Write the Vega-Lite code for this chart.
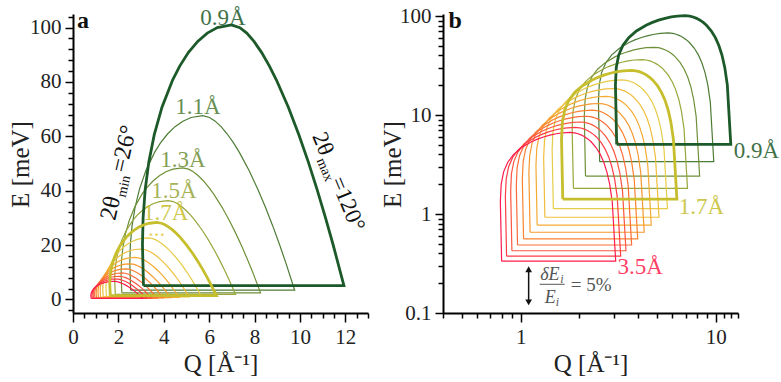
{
  "$schema": "https://vega.github.io/schema/vega-lite/v6.json",
  "background": "white",
  "padding": {"left": 8, "top": 5, "right": 5, "bottom": 5},
  "bounds": "flush",
  "spacing": 75,
  "config": {
    "font": "Liberation Serif",
    "view": {"stroke": null},
    "axis": {"grid": false, "domainColor": "#000", "domainWidth": 2, "tickColor": "#000", "tickWidth": 1.5, "labelFontSize": 21, "labelColor": "#222", "titleFontSize": 25, "titleFontWeight": "normal", "titleColor": "#222", "labelFont": "Liberation Serif", "titleFont": "Liberation Serif", "labelFlush": false, "labelOverlap": false, "labelBound": false, "format": "~g"}
  },
  "datasets": {
    "curves": [
      {"w":"0.9","Q":3.106,"E":5.05},{"w":"0.9","Q":3.061,"E":20.2},{"w":"0.9","Q":3.091,"E":30.3},{"w":"0.9","Q":3.181,"E":40.4},{"w":"0.9","Q":3.34,"E":50.5},{"w":"0.9","Q":3.581,"E":60.6},{"w":"0.9","Q":3.921,"E":70.7},{"w":"0.9","Q":4.394,"E":80.79},{"w":"0.9","Q":4.703,"E":85.84},{"w":"0.9","Q":5.09,"E":90.89},{"w":"0.9","Q":5.496,"E":94.93},{"w":"0.9","Q":5.918,"E":97.96},{"w":"0.9","Q":6.361,"E":99.98},{"w":"0.9","Q":6.981,"E":100.99},{"w":"0.9","Q":7.355,"E":99.98},{"w":"0.9","Q":7.658,"E":97.96},{"w":"0.9","Q":7.975,"E":94.93},{"w":"0.9","Q":8.308,"E":90.89},{"w":"0.9","Q":8.656,"E":85.84},{"w":"0.9","Q":8.96,"E":80.79},{"w":"0.9","Q":9.49,"E":70.7},{"w":"0.9","Q":9.953,"E":60.6},{"w":"0.9","Q":10.372,"E":50.5},{"w":"0.9","Q":10.758,"E":40.4},{"w":"0.9","Q":11.119,"E":30.3},{"w":"0.9","Q":11.46,"E":20.2},{"w":"0.9","Q":11.939,"E":5.05},{"w":"0.9","Q":3.106,"E":5.05},
      {"w":"1.1","Q":2.541,"E":3.38},{"w":"1.1","Q":2.504,"E":13.52},{"w":"1.1","Q":2.529,"E":20.28},{"w":"1.1","Q":2.603,"E":27.04},{"w":"1.1","Q":2.733,"E":33.8},{"w":"1.1","Q":2.93,"E":40.56},{"w":"1.1","Q":3.208,"E":47.33},{"w":"1.1","Q":3.595,"E":54.09},{"w":"1.1","Q":3.848,"E":57.47},{"w":"1.1","Q":4.164,"E":60.85},{"w":"1.1","Q":4.496,"E":63.55},{"w":"1.1","Q":4.842,"E":65.58},{"w":"1.1","Q":5.205,"E":66.93},{"w":"1.1","Q":5.712,"E":67.61},{"w":"1.1","Q":6.018,"E":66.93},{"w":"1.1","Q":6.266,"E":65.58},{"w":"1.1","Q":6.525,"E":63.55},{"w":"1.1","Q":6.798,"E":60.85},{"w":"1.1","Q":7.082,"E":57.47},{"w":"1.1","Q":7.331,"E":54.09},{"w":"1.1","Q":7.764,"E":47.33},{"w":"1.1","Q":8.143,"E":40.56},{"w":"1.1","Q":8.486,"E":33.8},{"w":"1.1","Q":8.802,"E":27.04},{"w":"1.1","Q":9.097,"E":20.28},{"w":"1.1","Q":9.376,"E":13.52},{"w":"1.1","Q":9.768,"E":3.38},{"w":"1.1","Q":2.541,"E":3.38},
      {"w":"1.3","Q":2.15,"E":2.42},{"w":"1.3","Q":2.119,"E":9.681},{"w":"1.3","Q":2.14,"E":14.52},{"w":"1.3","Q":2.202,"E":19.36},{"w":"1.3","Q":2.313,"E":24.2},{"w":"1.3","Q":2.479,"E":29.04},{"w":"1.3","Q":2.714,"E":33.88},{"w":"1.3","Q":3.042,"E":38.72},{"w":"1.3","Q":3.256,"E":41.14},{"w":"1.3","Q":3.524,"E":43.57},{"w":"1.3","Q":3.805,"E":45.5},{"w":"1.3","Q":4.097,"E":46.95},{"w":"1.3","Q":4.404,"E":47.92},{"w":"1.3","Q":4.833,"E":48.41},{"w":"1.3","Q":5.092,"E":47.92},{"w":"1.3","Q":5.302,"E":46.95},{"w":"1.3","Q":5.521,"E":45.5},{"w":"1.3","Q":5.752,"E":43.57},{"w":"1.3","Q":5.993,"E":41.14},{"w":"1.3","Q":6.203,"E":38.72},{"w":"1.3","Q":6.57,"E":33.88},{"w":"1.3","Q":6.89,"E":29.04},{"w":"1.3","Q":7.18,"E":24.2},{"w":"1.3","Q":7.448,"E":19.36},{"w":"1.3","Q":7.698,"E":14.52},{"w":"1.3","Q":7.934,"E":9.681},{"w":"1.3","Q":8.266,"E":2.42},{"w":"1.3","Q":2.15,"E":2.42},
      {"w":"1.5","Q":1.864,"E":1.818},{"w":"1.5","Q":1.836,"E":7.271},{"w":"1.5","Q":1.855,"E":10.91},{"w":"1.5","Q":1.909,"E":14.54},{"w":"1.5","Q":2.004,"E":18.18},{"w":"1.5","Q":2.149,"E":21.81},{"w":"1.5","Q":2.353,"E":25.45},{"w":"1.5","Q":2.636,"E":29.09},{"w":"1.5","Q":2.822,"E":30.9},{"w":"1.5","Q":3.054,"E":32.72},{"w":"1.5","Q":3.297,"E":34.18},{"w":"1.5","Q":3.551,"E":35.27},{"w":"1.5","Q":3.817,"E":35.99},{"w":"1.5","Q":4.189,"E":36.36},{"w":"1.5","Q":4.413,"E":35.99},{"w":"1.5","Q":4.595,"E":35.27},{"w":"1.5","Q":4.785,"E":34.18},{"w":"1.5","Q":4.985,"E":32.72},{"w":"1.5","Q":5.194,"E":30.9},{"w":"1.5","Q":5.376,"E":29.09},{"w":"1.5","Q":5.694,"E":25.45},{"w":"1.5","Q":5.972,"E":21.81},{"w":"1.5","Q":6.223,"E":18.18},{"w":"1.5","Q":6.455,"E":14.54},{"w":"1.5","Q":6.671,"E":10.91},{"w":"1.5","Q":6.876,"E":7.271},{"w":"1.5","Q":7.164,"E":1.818},{"w":"1.5","Q":1.864,"E":1.818},
      {"w":"1.7","Q":1.644,"E":1.415},{"w":"1.7","Q":1.62,"E":5.661},{"w":"1.7","Q":1.636,"E":8.492},{"w":"1.7","Q":1.684,"E":11.32},{"w":"1.7","Q":1.768,"E":14.15},{"w":"1.7","Q":1.896,"E":16.98},{"w":"1.7","Q":2.076,"E":19.81},{"w":"1.7","Q":2.326,"E":22.65},{"w":"1.7","Q":2.49,"E":24.06},{"w":"1.7","Q":2.695,"E":25.48},{"w":"1.7","Q":2.909,"E":26.61},{"w":"1.7","Q":3.133,"E":27.46},{"w":"1.7","Q":3.368,"E":28.02},{"w":"1.7","Q":3.696,"E":28.31},{"w":"1.7","Q":3.894,"E":28.02},{"w":"1.7","Q":4.054,"E":27.46},{"w":"1.7","Q":4.222,"E":26.61},{"w":"1.7","Q":4.398,"E":25.48},{"w":"1.7","Q":4.583,"E":24.06},{"w":"1.7","Q":4.744,"E":22.65},{"w":"1.7","Q":5.024,"E":19.81},{"w":"1.7","Q":5.269,"E":16.98},{"w":"1.7","Q":5.491,"E":14.15},{"w":"1.7","Q":5.695,"E":11.32},{"w":"1.7","Q":5.887,"E":8.492},{"w":"1.7","Q":6.067,"E":5.661},{"w":"1.7","Q":6.321,"E":1.415},{"w":"1.7","Q":1.644,"E":1.415},
      {"w":"1.9","Q":1.471,"E":1.133},{"w":"1.9","Q":1.45,"E":4.532},{"w":"1.9","Q":1.464,"E":6.798},{"w":"1.9","Q":1.507,"E":9.064},{"w":"1.9","Q":1.582,"E":11.33},{"w":"1.9","Q":1.696,"E":13.6},{"w":"1.9","Q":1.857,"E":15.86},{"w":"1.9","Q":2.081,"E":18.13},{"w":"1.9","Q":2.228,"E":19.26},{"w":"1.9","Q":2.411,"E":20.39},{"w":"1.9","Q":2.603,"E":21.3},{"w":"1.9","Q":2.803,"E":21.98},{"w":"1.9","Q":3.013,"E":22.43},{"w":"1.9","Q":3.307,"E":22.66},{"w":"1.9","Q":3.484,"E":22.43},{"w":"1.9","Q":3.627,"E":21.98},{"w":"1.9","Q":3.778,"E":21.3},{"w":"1.9","Q":3.935,"E":20.39},{"w":"1.9","Q":4.1,"E":19.26},{"w":"1.9","Q":4.244,"E":18.13},{"w":"1.9","Q":4.495,"E":15.86},{"w":"1.9","Q":4.715,"E":13.6},{"w":"1.9","Q":4.913,"E":11.33},{"w":"1.9","Q":5.096,"E":9.064},{"w":"1.9","Q":5.267,"E":6.798},{"w":"1.9","Q":5.428,"E":4.532},{"w":"1.9","Q":5.655,"E":1.133},{"w":"1.9","Q":1.471,"E":1.133},
      {"w":"2.1","Q":1.331,"E":0.9275},{"w":"2.1","Q":1.312,"E":3.71},{"w":"2.1","Q":1.325,"E":5.565},{"w":"2.1","Q":1.363,"E":7.42},{"w":"2.1","Q":1.432,"E":9.275},{"w":"2.1","Q":1.535,"E":11.13},{"w":"2.1","Q":1.68,"E":12.99},{"w":"2.1","Q":1.883,"E":14.84},{"w":"2.1","Q":2.016,"E":15.77},{"w":"2.1","Q":2.181,"E":16.7},{"w":"2.1","Q":2.355,"E":17.44},{"w":"2.1","Q":2.536,"E":17.99},{"w":"2.1","Q":2.726,"E":18.36},{"w":"2.1","Q":2.992,"E":18.55},{"w":"2.1","Q":3.152,"E":18.36},{"w":"2.1","Q":3.282,"E":17.99},{"w":"2.1","Q":3.418,"E":17.44},{"w":"2.1","Q":3.561,"E":16.7},{"w":"2.1","Q":3.71,"E":15.77},{"w":"2.1","Q":3.84,"E":14.84},{"w":"2.1","Q":4.067,"E":12.99},{"w":"2.1","Q":4.266,"E":11.13},{"w":"2.1","Q":4.445,"E":9.275},{"w":"2.1","Q":4.611,"E":7.42},{"w":"2.1","Q":4.765,"E":5.565},{"w":"2.1","Q":4.911,"E":3.71},{"w":"2.1","Q":5.117,"E":0.9275},{"w":"2.1","Q":1.331,"E":0.9275},
      {"w":"2.3","Q":1.215,"E":0.7732},{"w":"2.3","Q":1.198,"E":3.093},{"w":"2.3","Q":1.21,"E":4.639},{"w":"2.3","Q":1.245,"E":6.186},{"w":"2.3","Q":1.307,"E":7.732},{"w":"2.3","Q":1.401,"E":9.278},{"w":"2.3","Q":1.534,"E":10.82},{"w":"2.3","Q":1.719,"E":12.37},{"w":"2.3","Q":1.84,"E":13.14},{"w":"2.3","Q":1.992,"E":13.92},{"w":"2.3","Q":2.15,"E":14.54},{"w":"2.3","Q":2.316,"E":15.0},{"w":"2.3","Q":2.489,"E":15.31},{"w":"2.3","Q":2.732,"E":15.46},{"w":"2.3","Q":2.878,"E":15.31},{"w":"2.3","Q":2.997,"E":15.0},{"w":"2.3","Q":3.121,"E":14.54},{"w":"2.3","Q":3.251,"E":13.92},{"w":"2.3","Q":3.387,"E":13.14},{"w":"2.3","Q":3.506,"E":12.37},{"w":"2.3","Q":3.713,"E":10.82},{"w":"2.3","Q":3.895,"E":9.278},{"w":"2.3","Q":4.058,"E":7.732},{"w":"2.3","Q":4.21,"E":6.186},{"w":"2.3","Q":4.351,"E":4.639},{"w":"2.3","Q":4.484,"E":3.093},{"w":"2.3","Q":4.672,"E":0.7732},{"w":"2.3","Q":1.215,"E":0.7732},
      {"w":"2.5","Q":1.118,"E":0.6544},{"w":"2.5","Q":1.102,"E":2.618},{"w":"2.5","Q":1.113,"E":3.927},{"w":"2.5","Q":1.145,"E":5.235},{"w":"2.5","Q":1.203,"E":6.544},{"w":"2.5","Q":1.289,"E":7.853},{"w":"2.5","Q":1.412,"E":9.162},{"w":"2.5","Q":1.582,"E":10.47},{"w":"2.5","Q":1.693,"E":11.13},{"w":"2.5","Q":1.832,"E":11.78},{"w":"2.5","Q":1.978,"E":12.3},{"w":"2.5","Q":2.131,"E":12.7},{"w":"2.5","Q":2.29,"E":12.96},{"w":"2.5","Q":2.513,"E":13.09},{"w":"2.5","Q":2.648,"E":12.96},{"w":"2.5","Q":2.757,"E":12.7},{"w":"2.5","Q":2.871,"E":12.3},{"w":"2.5","Q":2.991,"E":11.78},{"w":"2.5","Q":3.116,"E":11.13},{"w":"2.5","Q":3.226,"E":10.47},{"w":"2.5","Q":3.416,"E":9.162},{"w":"2.5","Q":3.583,"E":7.853},{"w":"2.5","Q":3.734,"E":6.544},{"w":"2.5","Q":3.873,"E":5.235},{"w":"2.5","Q":4.003,"E":3.927},{"w":"2.5","Q":4.125,"E":2.618},{"w":"2.5","Q":4.298,"E":0.6544},{"w":"2.5","Q":1.118,"E":0.6544},
      {"w":"2.7","Q":1.035,"E":0.5611},{"w":"2.7","Q":1.02,"E":2.244},{"w":"2.7","Q":1.03,"E":3.366},{"w":"2.7","Q":1.06,"E":4.489},{"w":"2.7","Q":1.113,"E":5.611},{"w":"2.7","Q":1.194,"E":6.733},{"w":"2.7","Q":1.307,"E":7.855},{"w":"2.7","Q":1.465,"E":8.977},{"w":"2.7","Q":1.568,"E":9.538},{"w":"2.7","Q":1.697,"E":10.1},{"w":"2.7","Q":1.832,"E":10.55},{"w":"2.7","Q":1.973,"E":10.88},{"w":"2.7","Q":2.12,"E":11.11},{"w":"2.7","Q":2.327,"E":11.22},{"w":"2.7","Q":2.452,"E":11.11},{"w":"2.7","Q":2.553,"E":10.88},{"w":"2.7","Q":2.658,"E":10.55},{"w":"2.7","Q":2.769,"E":10.1},{"w":"2.7","Q":2.885,"E":9.538},{"w":"2.7","Q":2.987,"E":8.977},{"w":"2.7","Q":3.163,"E":7.855},{"w":"2.7","Q":3.318,"E":6.733},{"w":"2.7","Q":3.457,"E":5.611},{"w":"2.7","Q":3.586,"E":4.489},{"w":"2.7","Q":3.706,"E":3.366},{"w":"2.7","Q":3.82,"E":2.244},{"w":"2.7","Q":3.98,"E":0.5611},{"w":"2.7","Q":1.035,"E":0.5611},
      {"w":"2.9","Q":0.964,"E":0.4864},{"w":"2.9","Q":0.95,"E":1.945},{"w":"2.9","Q":0.959,"E":2.918},{"w":"2.9","Q":0.987,"E":3.891},{"w":"2.9","Q":1.037,"E":4.864},{"w":"2.9","Q":1.111,"E":5.836},{"w":"2.9","Q":1.217,"E":6.809},{"w":"2.9","Q":1.364,"E":7.782},{"w":"2.9","Q":1.46,"E":8.268},{"w":"2.9","Q":1.58,"E":8.754},{"w":"2.9","Q":1.706,"E":9.143},{"w":"2.9","Q":1.837,"E":9.435},{"w":"2.9","Q":1.974,"E":9.63},{"w":"2.9","Q":2.167,"E":9.727},{"w":"2.9","Q":2.283,"E":9.63},{"w":"2.9","Q":2.377,"E":9.435},{"w":"2.9","Q":2.475,"E":9.143},{"w":"2.9","Q":2.578,"E":8.754},{"w":"2.9","Q":2.686,"E":8.268},{"w":"2.9","Q":2.781,"E":7.782},{"w":"2.9","Q":2.945,"E":6.809},{"w":"2.9","Q":3.089,"E":5.836},{"w":"2.9","Q":3.219,"E":4.864},{"w":"2.9","Q":3.339,"E":3.891},{"w":"2.9","Q":3.451,"E":2.918},{"w":"2.9","Q":3.556,"E":1.945},{"w":"2.9","Q":3.705,"E":0.4864},{"w":"2.9","Q":0.964,"E":0.4864},
      {"w":"3.1","Q":0.902,"E":0.4256},{"w":"3.1","Q":0.889,"E":1.702},{"w":"3.1","Q":0.897,"E":2.554},{"w":"3.1","Q":0.923,"E":3.405},{"w":"3.1","Q":0.97,"E":4.256},{"w":"3.1","Q":1.04,"E":5.107},{"w":"3.1","Q":1.138,"E":5.958},{"w":"3.1","Q":1.276,"E":6.81},{"w":"3.1","Q":1.365,"E":7.235},{"w":"3.1","Q":1.478,"E":7.661},{"w":"3.1","Q":1.596,"E":8.001},{"w":"3.1","Q":1.718,"E":8.257},{"w":"3.1","Q":1.847,"E":8.427},{"w":"3.1","Q":2.027,"E":8.512},{"w":"3.1","Q":2.135,"E":8.427},{"w":"3.1","Q":2.223,"E":8.257},{"w":"3.1","Q":2.315,"E":8.001},{"w":"3.1","Q":2.412,"E":7.661},{"w":"3.1","Q":2.513,"E":7.235},{"w":"3.1","Q":2.601,"E":6.81},{"w":"3.1","Q":2.755,"E":5.958},{"w":"3.1","Q":2.89,"E":5.107},{"w":"3.1","Q":3.011,"E":4.256},{"w":"3.1","Q":3.123,"E":3.405},{"w":"3.1","Q":3.228,"E":2.554},{"w":"3.1","Q":3.327,"E":1.702},{"w":"3.1","Q":3.466,"E":0.4256},{"w":"3.1","Q":0.902,"E":0.4256},
      {"w":"3.3","Q":0.847,"E":0.3756},{"w":"3.3","Q":0.835,"E":1.502},{"w":"3.3","Q":0.843,"E":2.254},{"w":"3.3","Q":0.868,"E":3.005},{"w":"3.3","Q":0.911,"E":3.756},{"w":"3.3","Q":0.977,"E":4.507},{"w":"3.3","Q":1.069,"E":5.258},{"w":"3.3","Q":1.198,"E":6.01},{"w":"3.3","Q":1.283,"E":6.385},{"w":"3.3","Q":1.388,"E":6.761},{"w":"3.3","Q":1.499,"E":7.061},{"w":"3.3","Q":1.614,"E":7.287},{"w":"3.3","Q":1.735,"E":7.437},{"w":"3.3","Q":1.904,"E":7.512},{"w":"3.3","Q":2.006,"E":7.437},{"w":"3.3","Q":2.089,"E":7.287},{"w":"3.3","Q":2.175,"E":7.061},{"w":"3.3","Q":2.266,"E":6.761},{"w":"3.3","Q":2.361,"E":6.385},{"w":"3.3","Q":2.444,"E":6.01},{"w":"3.3","Q":2.588,"E":5.258},{"w":"3.3","Q":2.714,"E":4.507},{"w":"3.3","Q":2.829,"E":3.756},{"w":"3.3","Q":2.934,"E":3.005},{"w":"3.3","Q":3.032,"E":2.254},{"w":"3.3","Q":3.125,"E":1.502},{"w":"3.3","Q":3.256,"E":0.3756},{"w":"3.3","Q":0.847,"E":0.3756},
      {"w":"3.5","Q":0.799,"E":0.3339},{"w":"3.5","Q":0.787,"E":1.336},{"w":"3.5","Q":0.795,"E":2.003},{"w":"3.5","Q":0.818,"E":2.671},{"w":"3.5","Q":0.859,"E":3.339},{"w":"3.5","Q":0.921,"E":4.007},{"w":"3.5","Q":1.008,"E":4.675},{"w":"3.5","Q":1.13,"E":5.342},{"w":"3.5","Q":1.209,"E":5.676},{"w":"3.5","Q":1.309,"E":6.01},{"w":"3.5","Q":1.413,"E":6.277},{"w":"3.5","Q":1.522,"E":6.478},{"w":"3.5","Q":1.636,"E":6.611},{"w":"3.5","Q":1.795,"E":6.678},{"w":"3.5","Q":1.891,"E":6.611},{"w":"3.5","Q":1.969,"E":6.478},{"w":"3.5","Q":2.051,"E":6.277},{"w":"3.5","Q":2.136,"E":6.01},{"w":"3.5","Q":2.226,"E":5.676},{"w":"3.5","Q":2.304,"E":5.342},{"w":"3.5","Q":2.44,"E":4.675},{"w":"3.5","Q":2.559,"E":4.007},{"w":"3.5","Q":2.667,"E":3.339},{"w":"3.5","Q":2.766,"E":2.671},{"w":"3.5","Q":2.859,"E":2.003},{"w":"3.5","Q":2.947,"E":1.336},{"w":"3.5","Q":3.07,"E":0.3339},{"w":"3.5","Q":0.799,"E":0.3339}
    ]
  },
  "hconcat": [
    {
      "width": 295,
      "height": 299,
      "encoding": {
        "x": {"field": "Q", "type": "quantitative", "scale": {"domain": [0, 13], "nice": false, "zero": false},
          "axis": {"title": "Q [Å⁻¹]", "values": [0,0.5,1,1.5,2,2.5,3,3.5,4,4.5,5,5.5,6,6.5,7,7.5,8,8.5,9,9.5,10,10.5,11,11.5,12,12.5,13],
            "labelExpr": "datum.value % 2 === 0 ? datum.label : ''",
            "tickSize": {"condition": {"test": "datum.value % 2 === 0", "value": 9}, "value": 5},
            "labelPadding": 4, "titleY": 58, "titleBaseline": "alphabetic"}},
        "y": {"field": "E", "type": "quantitative", "scale": {"domain": [-5, 105], "nice": false, "zero": false},
          "axis": {"title": "E [meV]", "values": [-4,0,4,8,12,16,20,24,28,32,36,40,44,48,52,56,60,64,68,72,76,80,84,88,92,96,100,104],
            "labelExpr": "datum.value % 20 === 0 ? datum.label : ''",
            "tickSize": {"condition": {"test": "datum.value % 20 === 0", "value": 8}, "value": 5},
            "labelPadding": 4, "titleX": -40, "titleY": 150}}
      },
      "layer": [
        {"data": {"name": "curves"}, "transform": [{"filter": "datum.w !== '0.9' && datum.w !== '1.7'"}],
          "mark": {"type": "line", "strokeWidth": 1.2, "strokeJoin": "miter"},
          "encoding": {"color": {"field": "w", "type": "nominal", "legend": null,
            "scale": {"domain": ["0.9","1.1","1.3","1.5","1.7","1.9","2.1","2.3","2.5","2.7","2.9","3.1","3.3","3.5"],
              "range": ["#1d5a2a","#4d7c35","#6f9038","#98a63a","#c6be2c","#e6cc48","#f0be3c","#f4ab33","#f7982f","#f98331","#fb6d38","#fc5640","#fd3d45","#ff1c4c"]}},
            "order": {"value": null}}},
        {"data": {"name": "curves"}, "transform": [{"filter": "datum.w === '0.9' || datum.w === '1.7'"}],
          "mark": {"type": "line", "strokeWidth": 2.8, "strokeJoin": "miter"},
          "encoding": {"color": {"field": "w", "type": "nominal", "legend": null}, "order": {"value": null}}},
        {"data": {"values": [
            {"w": "0.9", "Q": 6.61, "E": 101, "t": "0.9Å"},
            {"w": "1.1", "Q": 5.51, "E": 68.2, "t": "1.1Å"},
            {"w": "1.3", "Q": 4.85, "E": 48.7, "t": "1.3Å"},
            {"w": "1.5", "Q": 4.45, "E": 37.3, "t": "1.5Å"},
            {"w": "1.7", "Q": 4.08, "E": 29.2, "t": "1.7Å"},
            {"w": "1.9", "Q": 3.69, "E": 23.3, "t": "..."}]},
          "mark": {"type": "text", "fontSize": 23, "align": "center", "baseline": "alphabetic", "opacity": 0.85},
          "encoding": {"text": {"field": "t"}, "color": {"field": "w", "type": "nominal", "legend": null}}},
        {"data": {"values": [{"Q": 0.18, "E": 99.9}]},
          "mark": {"type": "text", "fontSize": 24, "fontWeight": "bold", "align": "left", "baseline": "alphabetic", "color": "#111", "text": "a"}},
        {"data": {"values": [{"Q": 1.85, "E": 28.8}]},
          "mark": {"type": "text", "fontSize": 24, "angle": 283, "align": "left", "baseline": "alphabetic", "color": "#111", "text": "2θ"}},
        {"data": {"values": [{"Q": 1.85, "E": 28.8}]},
          "mark": {"type": "text", "fontSize": 14, "angle": 283, "align": "left", "baseline": "alphabetic", "dx": 25, "dy": 5, "color": "#111", "text": "min"}},
        {"data": {"values": [{"Q": 1.85, "E": 28.8}]},
          "mark": {"type": "text", "fontSize": 24, "angle": 283, "align": "left", "baseline": "alphabetic", "dx": 49, "color": "#111", "text": "=26°"}},
        {"data": {"values": [{"Q": 10.53, "E": 60.1}]},
          "mark": {"type": "text", "fontSize": 23, "angle": 67.5, "align": "left", "baseline": "alphabetic", "color": "#111", "text": "2θ"}},
        {"data": {"values": [{"Q": 10.53, "E": 60.1}]},
          "mark": {"type": "text", "fontSize": 14, "angle": 67.5, "align": "left", "baseline": "alphabetic", "dx": 24, "dy": 5, "color": "#111", "text": "max"}},
        {"data": {"values": [{"Q": 10.53, "E": 60.1}]},
          "mark": {"type": "text", "fontSize": 23, "angle": 67.5, "align": "left", "baseline": "alphabetic", "dx": 48, "color": "#111", "text": "=120°"}}
      ]
    },
    {
      "width": 295,
      "height": 299,
      "encoding": {
        "x": {"field": "Q", "type": "quantitative", "scale": {"type": "log", "domain": [0.4, 13], "nice": false},
          "axis": {"title": "Q [Å⁻¹]", "values": [0.4,0.5,0.6,0.7,0.8,0.9,1,2,3,4,5,6,7,8,9,10,11,12,13],
            "labelExpr": "datum.value === 1 || datum.value === 10 ? datum.label : ''",
            "tickSize": {"condition": {"test": "datum.value === 1 || datum.value === 10", "value": 9}, "value": 5},
            "labelPadding": 4, "titleY": 58, "titleBaseline": "alphabetic"}},
        "y": {"field": "E", "type": "quantitative", "scale": {"type": "log", "domain": [0.1, 105], "nice": false},
          "axis": {"title": "E [meV]", "values": [0.1,0.2,0.3,0.4,0.5,0.6,0.7,0.8,0.9,1,2,3,4,5,6,7,8,9,10,20,30,40,50,60,70,80,90,100],
            "labelExpr": "datum.value === 0.1 || datum.value === 1 || datum.value === 10 || datum.value === 100 ? datum.label : ''",
            "tickSize": {"condition": {"test": "datum.value === 0.1 || datum.value === 1 || datum.value === 10 || datum.value === 100", "value": 8}, "value": 5},
            "labelPadding": 4, "titleX": -38, "titleY": 150}}
      },
      "layer": [
        {"data": {"name": "curves"}, "transform": [{"filter": "datum.w !== '0.9' && datum.w !== '1.7'"}],
          "mark": {"type": "line", "strokeWidth": 1.2, "strokeJoin": "miter"},
          "encoding": {"color": {"field": "w", "type": "nominal", "legend": null,
            "scale": {"domain": ["0.9","1.1","1.3","1.5","1.7","1.9","2.1","2.3","2.5","2.7","2.9","3.1","3.3","3.5"],
              "range": ["#1d5a2a","#4d7c35","#6f9038","#98a63a","#c6be2c","#e6cc48","#f0be3c","#f4ab33","#f7982f","#f98331","#fb6d38","#fc5640","#fd3d45","#ff1c4c"]}},
            "order": {"value": null}}},
        {"data": {"name": "curves"}, "transform": [{"filter": "datum.w === '0.9' || datum.w === '1.7'"}],
          "mark": {"type": "line", "strokeWidth": 2.8, "strokeJoin": "miter"},
          "encoding": {"color": {"field": "w", "type": "nominal", "legend": null}, "order": {"value": null}}},
        {"data": {"values": [
            {"w": "0.9", "Q": 12.37, "E": 3.67, "t": "0.9Å"},
            {"w": "1.7", "Q": 6.46, "E": 0.995, "t": "1.7Å"},
            {"w": "3.5", "Q": 3.14, "E": 0.246, "t": "3.5Å"}]},
          "mark": {"type": "text", "fontSize": 23, "align": "left", "baseline": "alphabetic", "opacity": 0.85},
          "encoding": {"text": {"field": "t"}, "color": {"field": "w", "type": "nominal", "legend": null}}},
        {"data": {"values": [{"Q": 0.427, "E": 75.7}]},
          "mark": {"type": "text", "fontSize": 24, "fontWeight": "bold", "align": "left", "baseline": "alphabetic", "color": "#111", "text": "b"}},
        {"data": {"values": [{"Q": 1.099, "E": 0.135, "E2": 0.27}]},
          "mark": {"type": "rule", "color": "#111", "strokeWidth": 1.5},
          "encoding": {"y2": {"field": "E2"}}},
        {"data": {"values": [{"Q": 1.099, "E": 0.2767}]},
          "mark": {"type": "point", "shape": "triangle-up", "size": 45, "filled": true, "color": "#111", "opacity": 1}},
        {"data": {"values": [{"Q": 1.099, "E": 0.128}]},
          "mark": {"type": "point", "shape": "triangle-down", "size": 45, "filled": true, "color": "#111", "opacity": 1}},
        {"data": {"values": [{"Q": 1.26, "E": 0.214}]},
          "mark": {"type": "text", "fontSize": 18, "fontStyle": "italic", "align": "left", "baseline": "alphabetic", "color": "#555", "text": "δE"}},
        {"data": {"values": [{"Q": 1.26, "E": 0.214}]},
          "mark": {"type": "text", "fontSize": 12, "fontStyle": "italic", "align": "left", "baseline": "alphabetic", "dx": 20, "dy": 3, "color": "#555", "text": "i"}},
        {"data": {"values": [{"Q": 1.252, "Q2": 1.681, "E": 0.195}]},
          "mark": {"type": "rule", "color": "#555", "strokeWidth": 1},
          "encoding": {"x2": {"field": "Q2"}}},
        {"data": {"values": [{"Q": 1.328, "E": 0.1253}]},
          "mark": {"type": "text", "fontSize": 18, "fontStyle": "italic", "align": "left", "baseline": "alphabetic", "color": "#555", "text": "E"}},
        {"data": {"values": [{"Q": 1.328, "E": 0.1253}]},
          "mark": {"type": "text", "fontSize": 12, "fontStyle": "italic", "align": "left", "baseline": "alphabetic", "dx": 11, "dy": 3, "color": "#555", "text": "i"}},
        {"data": {"values": [{"Q": 1.805, "E": 0.1655}]},
          "mark": {"type": "text", "fontSize": 19, "align": "left", "baseline": "alphabetic", "color": "#555", "text": "= 5%"}}
      ]
    }
  ]
}
